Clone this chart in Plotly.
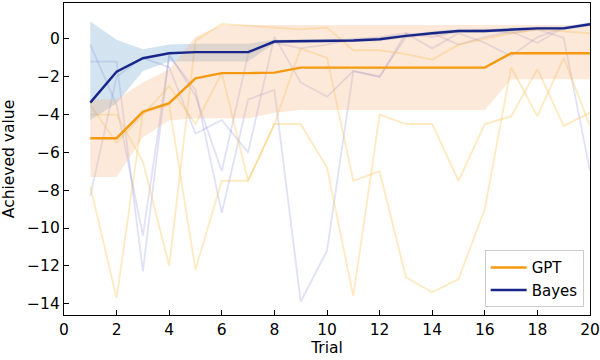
import plotly.graph_objects as go

trials = list(range(1, 21))

# Mean best-so-far curves
gpt_mean = [-5.25, -5.25, -3.85, -3.4, -2.08, -1.81, -1.81, -1.78, -1.52, -1.52,
            -1.52, -1.52, -1.52, -1.52, -1.52, -1.52, -0.76, -0.76, -0.76, -0.76]
bayes_mean = [-3.37, -1.73, -1.02, -0.76, -0.70, -0.70, -0.70, -0.14, -0.12, -0.10,
              -0.08, -0.02, 0.16, 0.30, 0.42, 0.42, 0.50, 0.56, 0.56, 0.78]

# Shaded bands
gpt_upper = [-3.2, -3.2, -2.3, -1.6, 0.12, 0.74, 0.74, 0.74, 0.74, 0.74,
             0.74, 0.74, 0.74, 0.74, 0.74, 0.74, 0.74, 0.74, 0.74, 0.74]
gpt_lower = [-7.3, -7.3, -5.2, -4.3, -4.2, -4.2, -4.2, -3.9, -3.76, -3.76,
             -3.76, -3.76, -3.76, -3.76, -3.76, -3.76, -2.13, -2.13, -2.13, -2.13]
bayes_upper = [0.92, -0.05, -0.55, -0.3, -0.25, -0.25, -0.25, -0.04, -0.02, 0.0,
               0.02, 0.08, 0.26, 0.40, 0.52, 0.52, 0.60, 0.66, 0.66, 0.88]
bayes_lower = [-4.3, -3.4, -1.7, -1.2, -1.2, -1.2, -1.2, -0.24, -0.22, -0.2,
               -0.18, -0.12, 0.06, 0.20, 0.32, 0.32, 0.40, 0.46, 0.46, 0.68]

# Individual runs (faint)
gpt_run1 = [-7.8, -13.7, -3.9, -3.5, -12.2, -7.5, -7.5, -4.5, -4.5, -6.8,
            -13.6, -4.0, -4.5, -4.5, -7.5, -4.5, -4.1, -1.6, -4.6, -3.9]
gpt_run2 = [-4.0, -4.0, -6.5, -12.0, -0.1, 0.8, 0.7, 0.6, 0.5, 0.6,
            -0.6, -0.6, -0.8, -1.1, -0.3, 0.0, 0.3, 0.5, 0.4, 0.3]
gpt_run3 = [-3.5, -5.5, -4.0, -2.5, -4.5, -1.8, -7.5, -4.5, -0.5, -1.0,
            -7.5, -7.0, -12.6, -13.4, -12.7, -9.0, -1.5, -4.1, -1.0, -4.6]
bayes_run1 = [-1.2, -1.2, -12.3, -0.8, -3.0, -7.0, -0.8, -0.2, -0.5, -0.3,
              0.0, 0.1, 0.3, 0.1, 0.4, 0.5, 0.3, 0.5, 0.05, -7.0]
bayes_run2 = [-0.3, -3.5, -10.4, -0.9, -2.7, -9.2, -3.2, -2.7, -13.9, -11.2,
              -1.7, -2.0, 0.3, -0.5, 0.3, -0.2, -0.9, 0.1, 0.6, 0.8]
bayes_run3 = [-8.3, -2.0, -1.0, -1.5, -5.0, -4.3, -6.0, 0.12, -2.3, -3.05,
              -1.7, -2.0, 0.1, 0.3, -0.3, 0.1, 0.4, -0.2, 0.6, 0.7]

x_ticks = list(range(0, 21, 2))
y_ticks = list(range(-14, 1, 2))

GPT_C = "#f39a12"
BAYES_C = "#18268a"
GPT_FAINT = "rgba(248,196,80,0.35)"
BAYES_FAINT = "rgba(120,120,215,0.22)"
FONT = "DejaVu Sans"

fig = go.Figure()

for run in [bayes_run1, bayes_run2, bayes_run3]:
    fig.add_trace(go.Scatter(x=trials, y=run, mode="lines",
                             line=dict(color=BAYES_FAINT, width=1.8),
                             showlegend=False, hoverinfo="skip"))
for run in [gpt_run1, gpt_run2, gpt_run3]:
    fig.add_trace(go.Scatter(x=trials, y=run, mode="lines",
                             line=dict(color=GPT_FAINT, width=1.8),
                             showlegend=False, hoverinfo="skip"))

fig.add_trace(go.Scatter(x=trials + trials[::-1], y=bayes_upper + bayes_lower[::-1],
                         fill="toself", fillcolor="rgba(120,170,210,0.33)",
                         line=dict(width=0), mode="lines",
                         showlegend=False, hoverinfo="skip"))
fig.add_trace(go.Scatter(x=trials + trials[::-1], y=gpt_upper + gpt_lower[::-1],
                         fill="toself", fillcolor="rgba(248,175,120,0.28)",
                         line=dict(width=0), mode="lines",
                         showlegend=False, hoverinfo="skip"))

fig.add_trace(go.Scatter(x=trials, y=gpt_mean, mode="lines", name="GPT",
                         line=dict(color=GPT_C, width=2.4)))
fig.add_trace(go.Scatter(x=trials, y=bayes_mean, mode="lines", name="Bayes",
                         line=dict(color=BAYES_C, width=2.4)))

axis_common = dict(
    showgrid=False, zeroline=False, showline=True, linecolor="black",
    linewidth=1.3, mirror=True, ticks="inside", ticklen=5, tickwidth=1.3,
    tickcolor="black", automargin=False,
    tickfont=dict(family=FONT, size=15.5, color="black"),
)

fig.update_xaxes(range=[0, 20], tickvals=x_ticks,
                 title=dict(text="Trial", font=dict(family=FONT, size=15.5, color="black"),
                            standoff=2),
                 **axis_common)
fig.update_yaxes(range=[-14.6, 1.9], tickvals=y_ticks,
                 title=dict(text="Achieved value", font=dict(family=FONT, size=15.5, color="black"),
                            standoff=8),
                 **axis_common)

fig.update_layout(
    width=600, height=360,
    margin=dict(l=64, r=10, t=3, b=45),
    plot_bgcolor="white", paper_bgcolor="white",
    font=dict(family=FONT, size=15, color="black"),
    legend=dict(x=0.988, y=0.025, xanchor="right", yanchor="bottom",
                bgcolor="rgba(255,255,255,0.85)", bordercolor="#cccccc", borderwidth=1,
                font=dict(family=FONT, size=15, color="black"),
                itemwidth=36, tracegroupgap=2),
)

fig.write_html("out.html", config={"displayModeBar": False},
               post_script="document.body.style.margin='0';document.body.style.overflow='hidden';")
